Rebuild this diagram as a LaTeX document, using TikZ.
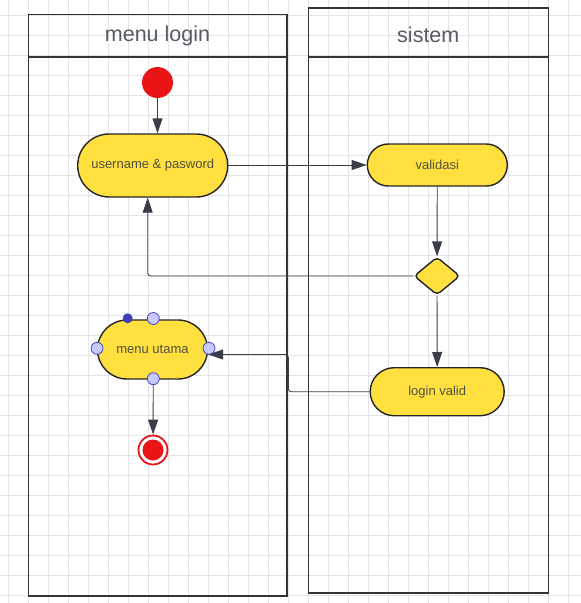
\documentclass[tikz,border=0pt]{standalone}
\usepackage{fontspec}
\setmainfont{Liberation Sans}
\usetikzlibrary{shapes.geometric,shapes.misc,arrows.meta}
\definecolor{lanegray}{RGB}{50,52,56}
\definecolor{titlegray}{RGB}{85,90,100}
\definecolor{textgray}{RGB}{80,80,70}
\definecolor{flowgray}{RGB}{58,62,72}
\definecolor{actyellow}{RGB}{255,224,62}
\definecolor{startred}{RGB}{232,20,22}
\definecolor{gridgray}{RGB}{228,228,231}
\definecolor{handlefill}{RGB}{200,200,250}
\definecolor{handleblue}{RGB}{70,70,200}
\tikzstyle{activity}=[rounded rectangle,draw=black!85,fill=actyellow,line width=1.4pt,text=textgray,font=\fontsize{13}{15}\selectfont,inner sep=0pt]
\tikzstyle{decision}=[diamond,draw=black!85,fill=actyellow,line width=1.4pt,rounded corners=4pt,minimum width=46pt,minimum height=38pt,inner sep=0pt]
\tikzstyle{startnode}=[circle,fill=startred,minimum size=31pt,inner sep=0pt]
\tikzstyle{endnode}=[circle,draw=startred,line width=1.8pt,fill=white,minimum size=29pt,inner sep=0pt,path picture={\fill[startred] (path picture bounding box.center) circle (10.5pt);}]
\tikzstyle{handle}=[circle,fill=handlefill,draw=handleblue,line width=0.8pt,minimum size=12pt,inner sep=0pt]
\tikzstyle{flow}=[draw=flowgray,line width=0.9pt,-{Triangle[length=15pt,width=10pt]}]
\tikzstyle{lane}=[draw=lanegray,line width=1.6pt]
\tikzstyle{lanetitle}=[text=titlegray,font=\fontsize{21.5}{24}\selectfont]

\begin{document}
\begin{tikzpicture}[x=1pt,y=-1pt]

  \useasboundingbox (0,0) rectangle (581,603);
  \fill[white] (0,0) rectangle (581,603);

% grid
  \foreach \gx in {8.3,28.3,...,580}
     \draw[gridgray,line width=0.8pt] (\gx,0) -- (\gx,603);
  \foreach \gy in {15,35,...,602}
     \draw[gridgray,line width=0.8pt] (0,\gy) -- (581,\gy);

% lanes
  \draw[lane] (28.3,14.3) rectangle (286.7,596);
  \draw[lane] (28.3,56.7) -- (286.7,56.7);
  \draw[lane] (308.3,8) rectangle (548.3,592.7);
  \draw[lane] (308.3,56.7) -- (548.3,56.7);
  \node[lanetitle] (laneL) at (157.5,35.5) {menu login};
  \node[lanetitle] (laneR) at (428.3,34.5) {sistem};

% start / end
  \node[startnode] (start) at (157.5,82.5) {};
  \node[endnode] (end) at (153,450) {};

% activities
  \foreach \pos/\name/\w/\h/\label in {{(152.7,165.5)/user/150/63/username \& pasword}, {(437.3,165)/valid/140/42/validasi}, {(437.2,391.7)/login/134/48/login valid}, {(152.5,349.5)/menu/110/59/menu utama}}
     \node[activity,minimum width=\w pt,minimum height=\h pt] (\name) at \pos {\label};

  \node[decision] (dec) at (437,276) {};

% handles on menu utama
  \foreach \pos/\name in {{(153.3,318.5)/hT}, {(97,348.3)/hL}, {(209,348.3)/hR}, {(153.3,378.7)/hB}}
     \node[handle] (\name) at \pos {};
  \node[circle,fill=handleblue!90!black,minimum size=10pt,inner sep=0pt] (hDot) at (127.7,318.3) {};

% Connect vertices with edges
  \coordinate (bend) at (288.3,391.7);
  \path[flow] (start) -- (start |- user.north);
  \path[flow] (user.east |- valid) -- (valid.west);
  \foreach \source/ \dest in {valid/dec, dec/login}
     \path[flow] (\source) -- (\dest);
  \path[flow,rounded corners=3pt] (dec.west) -| ([xshift=-5pt]user.south);
  \path[flow,rounded corners=3pt] (login.west) -- (bend) |- ([yshift=-5pt]menu.east);
  \path[flow] (hB) -- (end);

\end{tikzpicture}
\end{document}
